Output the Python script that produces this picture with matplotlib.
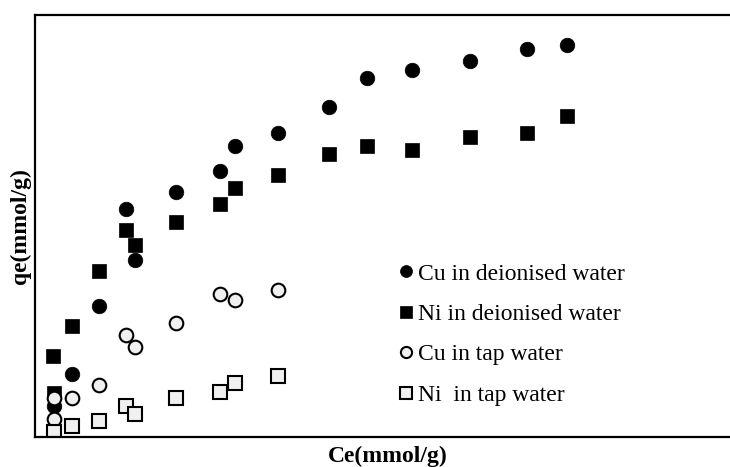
import matplotlib
matplotlib.use('Agg')
import matplotlib.pyplot as plt

plt.rcParams['font.family'] = ['Liberation Serif', 'DejaVu Serif']

# Ce / qe values (no tick labels in the original)
cu_di_x = [0.19, 0.37, 0.64, 0.92, 1.01, 1.42, 1.86, 2.01, 2.45, 2.96, 3.34, 3.80, 4.38, 4.96, 5.36]
cu_di_y = [0.29, 0.60, 1.24, 2.16, 1.68, 2.32, 2.52, 2.76, 2.88, 3.13, 3.40, 3.48, 3.56, 3.68, 3.72]

ni_di_x = [0.19, 0.18, 0.37, 0.64, 0.92, 1.01, 1.42, 1.86, 2.01, 2.45, 2.96, 3.34, 3.80, 4.38, 4.96, 5.36]
ni_di_y = [0.42, 0.77, 1.05, 1.57, 1.96, 1.82, 2.04, 2.21, 2.36, 2.48, 2.68, 2.76, 2.72, 2.84, 2.88, 3.04]

cu_tap_x = [0.19, 0.19, 0.37, 0.64, 0.92, 1.01, 1.42, 1.86, 2.01, 2.45]
cu_tap_y = [0.37, 0.17, 0.37, 0.49, 0.97, 0.85, 1.08, 1.36, 1.30, 1.39]

ni_tap_x = [0.19, 0.37, 0.64, 0.92, 1.01, 1.42, 1.86, 2.01, 2.45]
ni_tap_y = [0.05, 0.10, 0.15, 0.29, 0.22, 0.37, 0.43, 0.51, 0.58]

labels = ['Cu in deionised water', 'Ni in deionised water', 'Cu in tap water', 'Ni  in tap water']

fig = plt.figure(figsize=(7.3, 4.67), dpi=100)
ax = fig.add_axes([35 / 730, 30 / 467, 695 / 730, 422 / 467])

ax.plot(cu_di_x, cu_di_y, 'o', color='black', markersize=10.5, mew=0.5, label=labels[0])
ax.plot(ni_di_x, ni_di_y, 's', color='black', markersize=10.5, mew=0.5, label=labels[1])
ax.plot(cu_tap_x, cu_tap_y, 'o', mfc='#f0f0f0', mec='black', markersize=9.8, mew=1.5, label=labels[2])
ax.plot(ni_tap_x, ni_tap_y, 's', mfc='#f0f0f0', mec='black', markersize=9.8, mew=1.5, label=labels[3])

ax.set_xlim(0, 7)
ax.set_ylim(0, 4)
ax.set_xticks([])
ax.set_yticks([])
ax.spines['right'].set_visible(False)
for s in ['left', 'top', 'bottom']:
    ax.spines[s].set_linewidth(1.6)

ax.set_xlabel('Ce(mmol/g)', fontsize=17, fontweight='bold')
ax.xaxis.set_label_coords(0.507, -0.022, transform=ax.transAxes)
ax.xaxis.label.set_va('top')
ax.set_ylabel('qe(mmol/g)', fontsize=17, fontweight='bold', labelpad=3)

ax.legend(loc='center left', bbox_to_anchor=(0.525, 0.243), frameon=False,
          fontsize=17, handlelength=0.5, handletextpad=0.25, labelspacing=0.8,
          borderpad=0, borderaxespad=0, markerscale=0.82)

fig.savefig('out.png', dpi=100)
